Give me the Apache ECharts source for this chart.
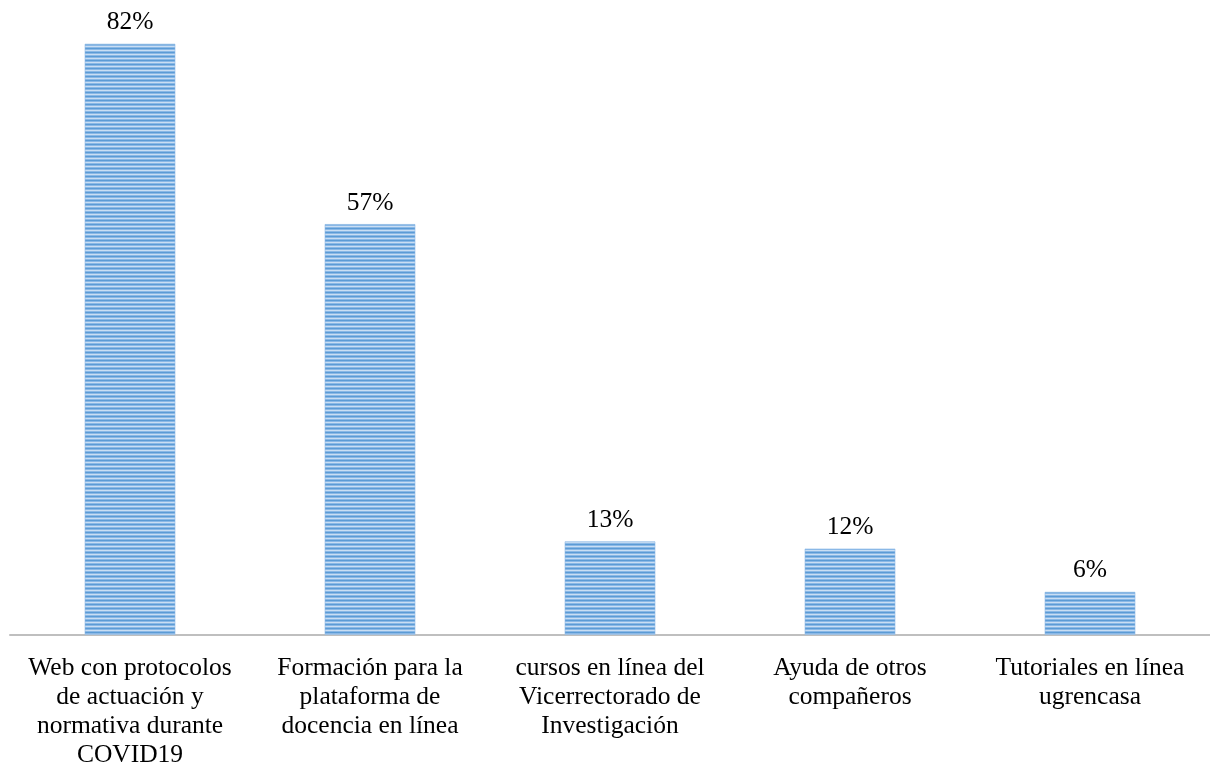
<!DOCTYPE html>
<html>
<head>
<meta charset="utf-8">
<script src="https://cdn.jsdelivr.net/npm/echarts@6/dist/echarts.min.js"></script>
<style>
html,body{margin:0;padding:0;background:#fff;}
#chart{width:1210px;height:770px;}
</style>
</head>
<body>
<div id="chart"></div>
<script>
const categories = [
  "Web con protocolos\nde actuación y\nnormativa durante\nCOVID19",
  "Formación para la\nplataforma de\ndocencia en línea",
  "cursos en línea del\nVicerrectorado de\nInvestigación",
  "Ayuda de otros\ncompañeros",
  "Tutoriales en línea\nugrencasa"
];
const values = [82, 57, 13, 12, 6];

const pat = document.createElement('canvas');
pat.width = 4; pat.height = 4;
const pc = pat.getContext('2d');
const stripe = ['#5b9bd5', '#8ab8e6', '#c9def3', '#8ab8e6'];
stripe.forEach((c, i) => { pc.fillStyle = c; pc.fillRect(0, i, 4, 1); });

const chart = echarts.init(document.getElementById('chart'), null, {renderer: 'canvas'});
chart.setOption({
  animation: false,
  backgroundColor: '#fff',
  grid: {left: 10, right: 0, top: 22, bottom: 134, containLabel: false},
  xAxis: {
    type: 'category',
    data: categories,
    axisLine: {lineStyle: {color: '#bfbfbf', width: 2}},
    axisTick: {show: false},
    axisLabel: {
      interval: 0,
      margin: 19,
      fontFamily: 'Liberation Serif',
      fontSize: 25.5,
      lineHeight: 29,
      color: '#000',
      align: 'center'
    }
  },
  yAxis: {
    type: 'value',
    min: 0,
    max: 85,
    show: false,
    splitLine: {show: false}
  },
  series: [{
    type: 'bar',
    data: values,
    barWidth: 91,
    itemStyle: {
      color: {image: pat, repeat: 'repeat'},
      borderColor: 'rgba(140,185,230,0.6)',
      borderWidth: 1
    },
    label: {
      show: true,
      position: 'top',
      distance: 8,
      formatter: '{c}%',
      fontFamily: 'Liberation Serif',
      fontSize: 25.5,
      color: '#000'
    }
  }]
});
</script>
</body>
</html>
